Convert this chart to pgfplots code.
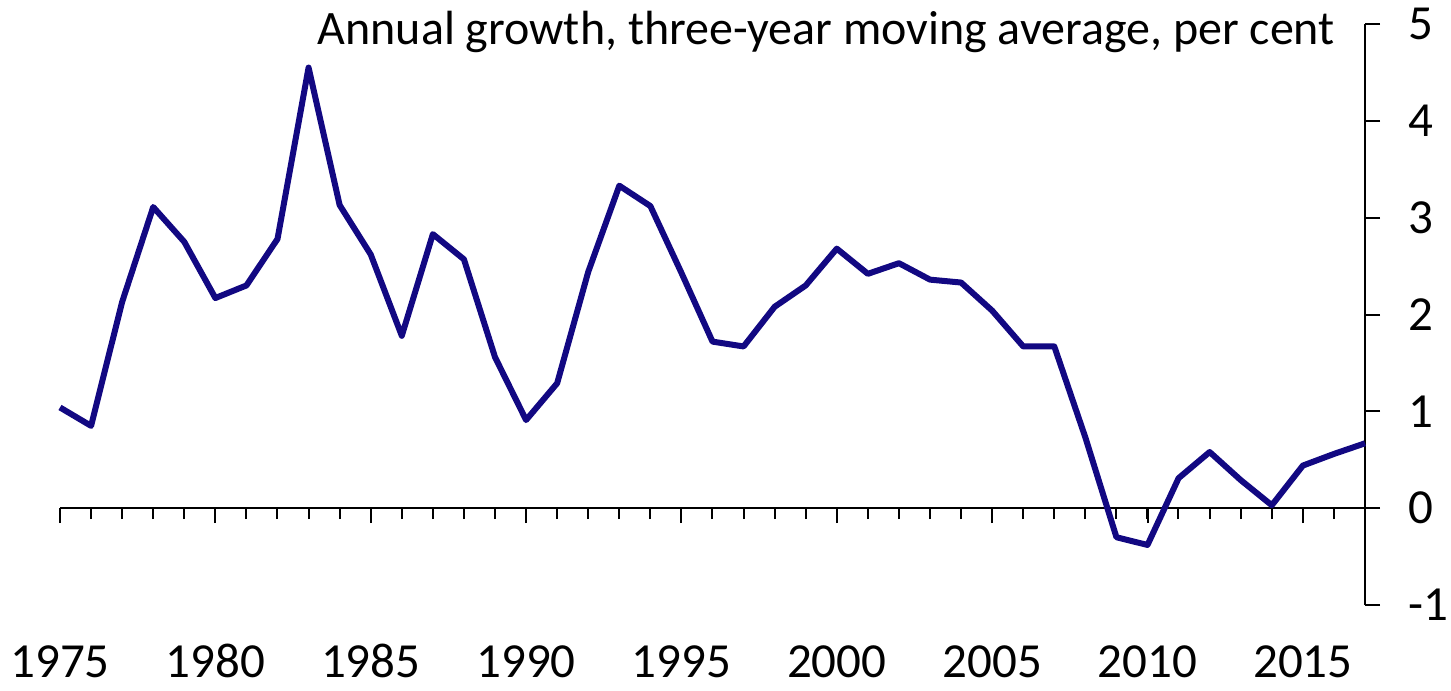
\documentclass[border=0pt]{standalone}
\usepackage{fontspec}
\setmainfont{Carlito}
\usepackage{pgfplots}
\pgfplotsset{compat=1.18}
\definecolor{navy}{RGB}{18,8,130}
\begin{document}
\begin{tikzpicture}
\begin{axis}[
  scale only axis,
  width=652.5pt, height=290.5pt,
  xmin=1975, xmax=2017,
  ymin=-1, ymax=5,
  axis x line=middle,
  axis y line=right,
  x axis line style={-, line width=1pt},
  y axis line style={-, line width=1pt},
  hide obscured x ticks=false,
  hide obscured y ticks=false,
  xtick={1975,1980,...,2015},
  minor xtick={1975,...,2017},
  ytick={-1,0,...,5},
  tick align=outside,
  major tick length=7.5pt,
  minor tick length=5.5pt,
  every tick/.style={black, line width=1pt},
  every minor tick/.style={black, line width=1pt},
  /pgf/number format/.cd, 1000 sep={}, assume math mode=true,
  /pgfplots/.cd,
  xticklabel style={font=\fontsize{24.5}{28}\selectfont, inner sep=0pt, anchor=base},
  yticklabel style={font=\fontsize{24.5}{28}\selectfont, inner sep=0pt, anchor=west},
  xticklabel shift=77pt,
  yticklabel shift=14pt,
  clip=false,
]
\addplot[navy, line width=3pt, line join=round] coordinates {
(1975,1.04) (1976,0.85) (1977,2.13) (1978,3.11) (1979,2.75) (1980,2.17)
(1981,2.30) (1982,2.78) (1983,4.55) (1984,3.13) (1985,2.62) (1986,1.78)
(1987,2.83) (1988,2.57) (1989,1.56) (1990,0.91) (1991,1.29) (1992,2.44)
(1993,3.33) (1994,3.12) (1995,2.43) (1996,1.72) (1997,1.67) (1998,2.08)
(1999,2.30) (2000,2.68) (2001,2.42) (2002,2.53) (2003,2.36) (2004,2.33)
(2005,2.04) (2006,1.67) (2007,1.67) (2008,0.73) (2009,-0.30) (2010,-0.38)
(2011,0.31) (2012,0.58) (2013,0.29) (2014,0.03) (2015,0.44) (2016,0.56)
(2017,0.67)
};
\node[anchor=base east, inner sep=0pt, font=\fontsize{24}{28}\selectfont,
  xshift=-15pt, yshift=-10.5pt] at (rel axis cs:1,1)
  {Annual growth, three-year moving average, per cent};
\coordinate (ll) at (rel axis cs:0,0);
\coordinate (ur) at (rel axis cs:1,1);
\end{axis}
\path ([xshift=-30pt,yshift=-42.5pt]ll) rectangle ([xshift=43pt,yshift=12pt]ur);
\end{tikzpicture}
\end{document}
